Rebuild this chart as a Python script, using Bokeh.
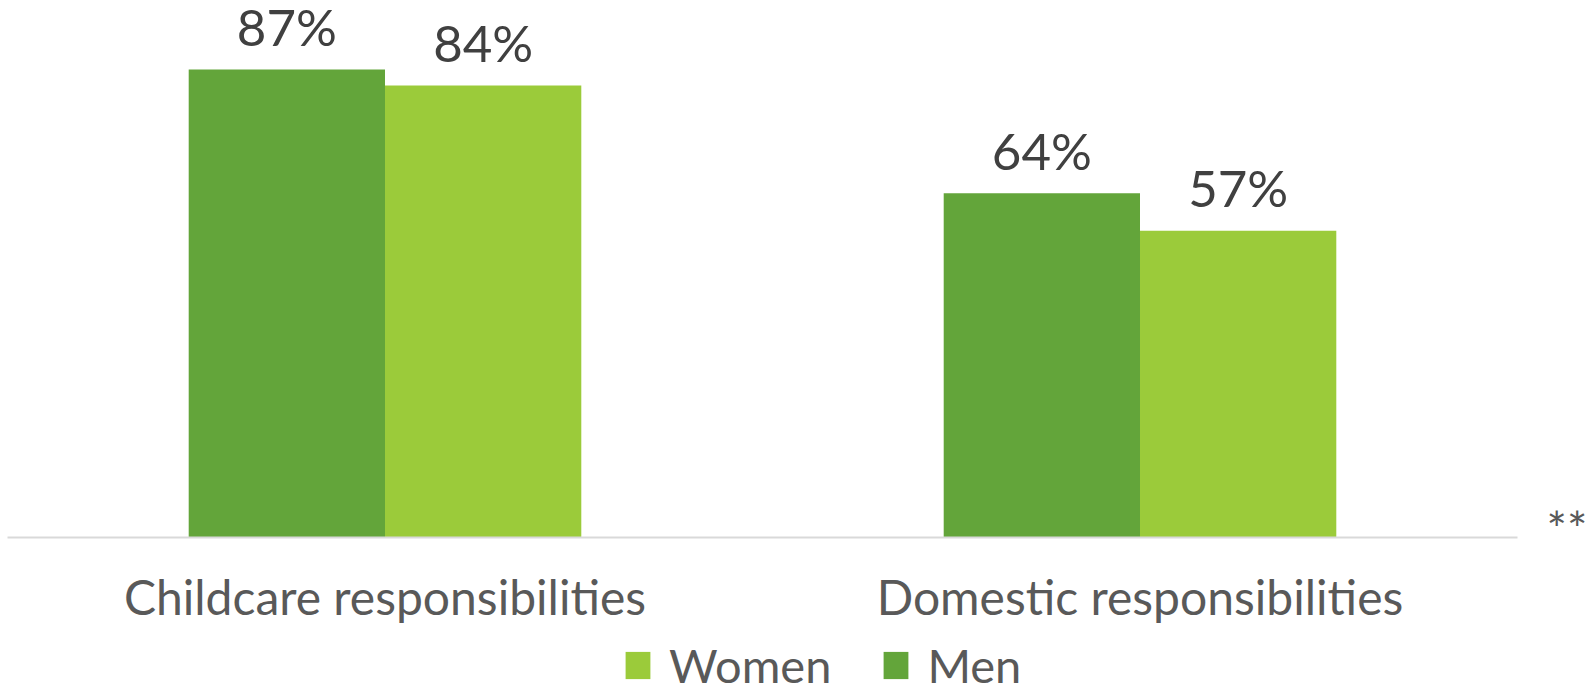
from bokeh.plotting import figure
from bokeh.models import ColumnDataSource, Range1d, Legend, LegendItem, Label
from bokeh.embed import file_html
from bokeh.resources import INLINE
from bokeh.core.properties import value

categories = ["Childcare responsibilities", "Domestic responsibilities"]
men = [87, 64]
women = [84, 57]
men_labels = ["87%", "64%"]
women_labels = ["84%", "57%"]

MEN_C = "#63a53a"
WOMEN_C = "#9bcb3a"
FONT = "Lato"

bw = 0.26
pos = [i + 0.5 for i in range(len(categories))]
src = ColumnDataSource(dict(cat=categories, pos=pos,
                            xm=[x - bw / 2 for x in pos], xw=[x + bw / 2 for x in pos],
                            men=men, women=women, ml=men_labels, wl=women_labels,
                            zero=[0] * len(categories)))

p = figure(width=1588, height=683,
           x_range=Range1d(-7 / 755, len(categories) + 71 / 755),
           y_range=Range1d(-146 / 5.38, 537 / 5.38),
           output_backend="svg", toolbar_location=None,
           min_border=0, min_border_left=0, min_border_right=0,
           min_border_top=0, min_border_bottom=0)
p.outline_line_color = None
p.grid.visible = False
p.axis.visible = False

r_men = p.vbar(x="xm", top="men", width=bw, source=src, fill_color=MEN_C, line_color=None)
r_women = p.vbar(x="xw", top="women", width=bw, source=src, fill_color=WOMEN_C, line_color=None)

# baseline (category axis line)
p.segment(x0=0, y0=0, x1=len(categories), y1=0, line_color="#d9d9d9", line_width=2)

# value labels
p.text(x="xm", y="men", text="ml", source=src, text_align="center", text_baseline="alphabetic",
       y_offset=-43, text_font=value(FONT), text_font_size="51px", text_color="#404040")
p.text(x="xw", y="women", text="wl", source=src, text_align="center", text_baseline="alphabetic",
       y_offset=-43, text_font=value(FONT), text_font_size="51px", text_color="#404040")

# category labels
p.text(x="pos", y="zero", text="cat", source=src, text_align="center", text_baseline="alphabetic",
       y_offset=59, text_font=value(FONT), text_font_size="48px", text_color="#595959")

p.add_layout(Label(x=(1546 - 7) / 755, y=6.9, text="**", text_font=FONT, text_font_size="48px",
                   text_color="#595959", text_baseline="top"))

legend = Legend(items=[LegendItem(label="Women", renderers=[r_women]),
                       LegendItem(label="Men", renderers=[r_men])],
                orientation="horizontal", location=(622, -10),
                label_text_font=FONT, label_text_font_size="47px", label_text_color="#595959",
                glyph_width=31, glyph_height=34, label_standoff=16, spacing=49,
                padding=0, margin=0, border_line_color=None, background_fill_alpha=0)
p.add_layout(legend, "center")

open("out.html", "w").write(file_html(p, INLINE))
